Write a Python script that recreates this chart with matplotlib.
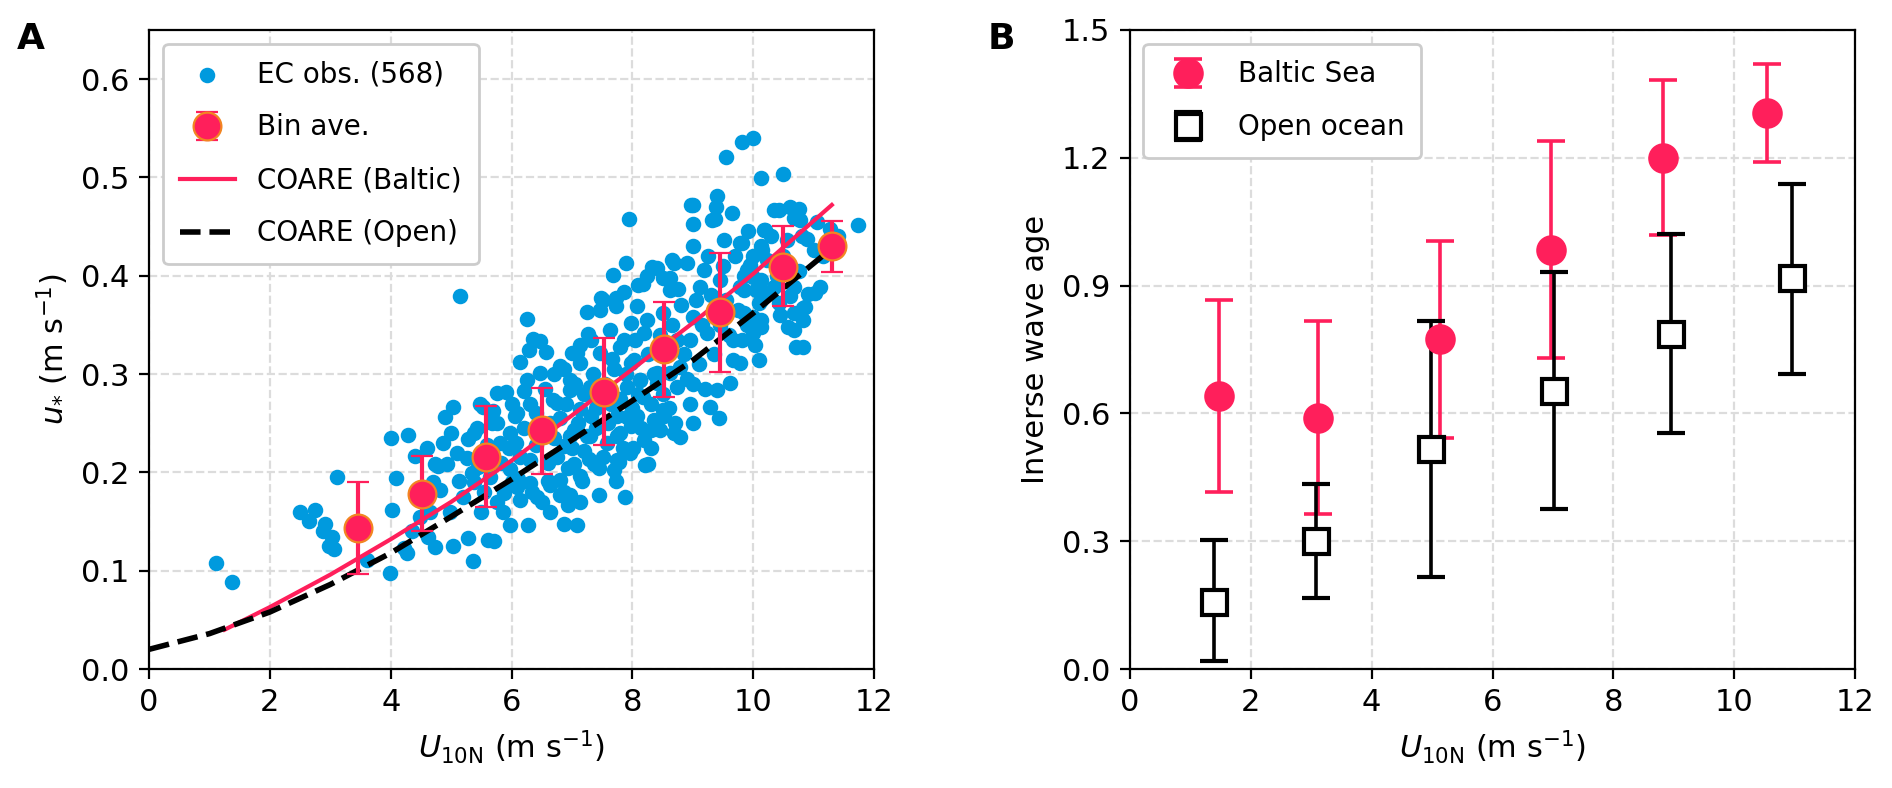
import matplotlib.pyplot as plt
import numpy as np

u10_obs = [
    1.11, 1.37, 2.50, 2.75, 2.65, 2.91, 2.88, 3.03, 2.98, 3.06, 3.11, 3.61, 4.01, 4.29, 4.09, 4.02,
    3.99, 4.27, 4.22, 4.40, 4.49, 4.62, 4.74, 4.82, 4.79, 4.93, 4.87, 4.90, 5.03, 5.13, 4.98, 5.03,
    5.28, 5.36, 5.28, 5.43, 5.53, 5.26, 5.34, 5.61, 4.55, 4.65, 4.35,
    5.15, 6.26, 6.14, 6.28, 6.36, 6.47, 6.57, 7.25, 7.47, 7.52, 7.68, 7.90, 7.86, 7.72, 8.07, 8.18,
    8.40, 8.51, 8.68, 8.62, 7.88, 7.08, 6.27, 5.97, 5.86, 8.25, 8.19, 4.73, 5.37, 5.76, 5.90, 5.68,
    6.06, 6.08, 5.83, 6.11, 6.34, 6.50, 6.61, 6.86, 6.94, 7.17, 7.28, 7.45, 7.78, 8.01, 6.25, 6.47,
    6.86, 6.97, 6.75, 7.14, 7.31, 7.14, 7.66, 7.86, 7.97, 8.13, 8.30, 8.53, 8.46, 8.07, 7.74, 7.31,
    7.03, 7.25, 6.86, 6.31, 5.98, 6.31, 6.64, 7.58, 7.74, 7.97, 8.30, 8.40, 8.62, 8.24, 7.97, 8.51,
    8.73, 8.73, 5.48, 5.54, 5.76, 5.37, 6.64, 6.94, 7.14, 7.45, 7.72, 6.86,
    9.81, 9.99, 9.55, 10.12, 10.49, 7.95, 9.01, 9.40, 9.39, 9.65, 9.37, 9.01, 9.00, 8.90, 9.18, 9.51,
    9.78, 9.92, 10.12, 10.42, 10.61, 10.75, 10.78, 10.17, 7.72, 8.10, 8.62, 8.24, 8.76, 9.12, 9.45,
    9.78, 10.00, 10.12, 10.23, 10.67, 10.86, 10.83, 10.67, 10.70, 10.83, 10.09, 10.00, 10.12, 9.84,
    9.67, 9.67, 9.62, 9.40, 9.23, 9.01, 8.96, 8.79, 9.01, 8.40, 8.12, 8.02, 7.80, 7.46, 7.08, 6.80,
    6.97, 7.30, 7.63, 8.19, 9.89, 10.34, 10.56,
    11.74, 11.27, 10.67, 10.20, 10.89, 11.00, 10.15, 9.81, 9.95, 10.12, 9.84, 10.23, 10.61, 11.11,
    10.91, 10.83, 10.67, 10.09, 10.00, 10.12, 10.42, 10.03, 9.78, 9.81, 11.02,
    5.71, 6.80, 6.97, 6.42, 6.14, 6.09, 6.31, 6.64, 6.80, 7.14, 7.03, 7.36, 7.52, 7.74, 7.69, 7.96,
    8.21, 8.68, 8.79, 9.01, 9.43, 9.29, 8.35, 8.51, 8.18, 7.91, 7.80, 7.30, 6.97, 6.75, 6.14, 5.98,
    5.87, 6.09, 6.69, 7.14, 7.64, 7.91, 5.76,
    8.97, 9.32, 8.32, 8.66, 7.48, 7.00, 7.26, 10.58, 10.35,
    5.60, 5.70, 5.95, 6.00, 6.20, 6.20, 6.40, 6.40, 6.55, 6.60, 6.70, 6.70, 6.80, 6.90, 7.00, 7.05,
    7.10, 7.20, 7.20, 7.35, 7.40, 7.40, 7.55, 7.60, 7.70, 7.80, 7.85, 7.90, 8.00, 8.05, 8.10, 8.15,
    8.25, 8.30, 8.35, 8.45, 8.50, 8.55, 8.60, 8.65, 8.70, 8.80, 8.85, 8.90, 8.95, 9.05, 9.10, 9.15,
    9.20, 9.25, 9.30, 9.35, 9.45, 9.50, 9.55, 9.60, 9.70, 9.75, 9.85, 9.90, 10.00, 10.05, 10.30, 10.40,
    10.45, 10.50, 10.75, 10.80, 11.05, 11.15, 11.40,
    4.60, 4.70, 5.00, 5.10, 5.20, 5.45, 5.50, 5.65, 5.80, 6.00,
]
ustar_obs = [
    0.108, 0.088, 0.160, 0.162, 0.151, 0.148, 0.140, 0.134, 0.125, 0.122, 0.195, 0.111, 0.235, 0.238, 0.194, 0.162,
    0.098, 0.118, 0.123, 0.217, 0.155, 0.134, 0.124, 0.182, 0.206, 0.209, 0.230, 0.256, 0.266, 0.191, 0.160, 0.125,
    0.133, 0.110, 0.234, 0.245, 0.267, 0.215, 0.199, 0.131, 0.170, 0.160, 0.140,
    0.379, 0.356, 0.312, 0.324, 0.336, 0.334, 0.322, 0.363, 0.365, 0.375, 0.401, 0.413, 0.383, 0.369, 0.369, 0.392,
    0.408, 0.398, 0.413, 0.385, 0.175, 0.146, 0.146, 0.146, 0.160, 0.209, 0.233, 0.209, 0.240, 0.281, 0.282, 0.250,
    0.257, 0.230, 0.210, 0.193, 0.180, 0.170, 0.191, 0.180, 0.204, 0.191, 0.214, 0.204, 0.211, 0.225, 0.294, 0.301,
    0.305, 0.284, 0.271, 0.311, 0.335, 0.330, 0.315, 0.335, 0.311, 0.294, 0.270, 0.257, 0.243, 0.257, 0.257, 0.257,
    0.243, 0.237, 0.227, 0.213, 0.240, 0.270, 0.250, 0.230, 0.237, 0.247, 0.243, 0.291, 0.301, 0.355, 0.352, 0.362,
    0.335, 0.287, 0.270, 0.180, 0.170, 0.190, 0.160, 0.167, 0.170, 0.177, 0.191, 0.148,
    0.536, 0.540, 0.521, 0.499, 0.503, 0.458, 0.472, 0.481, 0.470, 0.464, 0.458, 0.453, 0.430, 0.413, 0.406, 0.436,
    0.433, 0.445, 0.430, 0.467, 0.470, 0.468, 0.457, 0.447, 0.377, 0.391, 0.398, 0.400, 0.387, 0.389, 0.396,
    0.389, 0.399, 0.375, 0.416, 0.389, 0.368, 0.355, 0.345, 0.328, 0.328, 0.314, 0.342, 0.355, 0.362,
    0.335, 0.314, 0.291, 0.284, 0.342, 0.358, 0.335, 0.307, 0.290, 0.301, 0.294, 0.314, 0.328, 0.321, 0.321, 0.308,
    0.294, 0.287, 0.345, 0.342, 0.406, 0.389, 0.436,
    0.452, 0.448, 0.459, 0.447, 0.437, 0.426, 0.426, 0.433, 0.411, 0.396, 0.385, 0.382, 0.379, 0.389,
    0.381, 0.367, 0.362, 0.372, 0.358, 0.348, 0.372, 0.330, 0.311, 0.335, 0.382,
    0.130, 0.177, 0.177, 0.175, 0.172, 0.185, 0.189, 0.187, 0.192, 0.196, 0.209, 0.209, 0.216, 0.213, 0.202, 0.220,
    0.208, 0.240, 0.236, 0.250, 0.255, 0.267, 0.253, 0.263, 0.277, 0.256, 0.240, 0.237, 0.237, 0.216, 0.216, 0.203,
    0.179, 0.260, 0.274, 0.264, 0.270, 0.287, 0.250,
    0.472, 0.457, 0.409, 0.416, 0.377, 0.321, 0.341, 0.348, 0.467,
    0.228, 0.262, 0.225, 0.270, 0.245, 0.283, 0.260, 0.228, 0.285, 0.210, 0.235, 0.300, 0.255, 0.270, 0.225, 0.290,
    0.250, 0.280, 0.222, 0.300, 0.265, 0.245, 0.290, 0.250, 0.305, 0.275, 0.225, 0.300, 0.265, 0.335, 0.280, 0.245,
    0.320, 0.225, 0.300, 0.340, 0.280, 0.320, 0.265, 0.350, 0.250, 0.370, 0.320, 0.295, 0.270, 0.375, 0.310, 0.350,
    0.285, 0.420, 0.380, 0.320, 0.350, 0.410, 0.375, 0.340, 0.420, 0.365, 0.400, 0.350, 0.420, 0.385, 0.440, 0.400,
    0.360, 0.420, 0.405, 0.440, 0.455, 0.420, 0.440,
    0.225, 0.190, 0.240, 0.220, 0.175, 0.205, 0.160, 0.195, 0.230, 0.190,
]

# Bin averages with error bar limits
bin_u10 = [3.45, 4.52, 5.57, 6.50, 7.53, 8.52, 9.45, 10.49, 11.30]
bin_ustar = [0.143, 0.178, 0.216, 0.243, 0.282, 0.325, 0.363, 0.409, 0.430]
bin_lo = [0.097, 0.140, 0.165, 0.198, 0.228, 0.277, 0.302, 0.369, 0.404]
bin_hi = [0.190, 0.217, 0.268, 0.286, 0.337, 0.373, 0.423, 0.451, 0.456]

# COARE curves
coare_baltic_u = [1.25, 2, 3, 4, 5, 6, 7, 8, 9, 10, 11.3]
coare_baltic_ustar = [0.040, 0.063, 0.096, 0.132, 0.170, 0.212, 0.258, 0.305, 0.352, 0.402, 0.472]
coare_open_u = [0, 1, 2, 3, 4, 5, 6, 7, 8, 9, 10, 11.5]
coare_open_ustar = [0.020, 0.036, 0.058, 0.086, 0.118, 0.155, 0.193, 0.233, 0.273, 0.314, 0.362, 0.438]

# Panel B: inverse wave age
baltic_u = [1.48, 3.12, 5.14, 6.96, 8.82, 10.54]
baltic_iwa = [0.640, 0.588, 0.774, 0.983, 1.199, 1.304]
baltic_lo = [0.415, 0.365, 0.543, 0.729, 1.019, 1.191]
baltic_hi = [0.867, 0.817, 1.005, 1.239, 1.382, 1.420]
open_u = [1.40, 3.08, 4.99, 7.02, 8.95, 10.95]
open_iwa = [0.158, 0.300, 0.516, 0.652, 0.787, 0.917]
open_lo = [0.018, 0.167, 0.216, 0.376, 0.554, 0.692]
open_hi = [0.302, 0.435, 0.818, 0.932, 1.020, 1.139]

rosso = "#FF1F5B"
blu = "#009ADE"
arancio = "#F28522"

plt.rcParams["font.size"] = 11
plt.rcParams["mathtext.default"] = "regular"

fig = plt.figure(figsize=(9.46, 3.94), dpi=200)
axA = fig.add_axes([0.0788, 0.151, 0.3832, 0.811])
axB = fig.add_axes([0.597, 0.151, 0.3837, 0.811])

for ax in (axA, axB):
    ax.grid(True, color="#dcdcdc", linestyle="--", linewidth=0.8)
    ax.set_axisbelow(True)

# --- A ---
h_obs = axA.scatter(u10_obs, ustar_obs, s=21, color=blu, zorder=2, label="EC obs. (568)")
b = np.array(bin_ustar)
errA = [b - np.array(bin_lo), np.array(bin_hi) - b]
h_bin = axA.errorbar(bin_u10, bin_ustar, yerr=errA, fmt="o", color=rosso, markersize=10,
                     markerfacecolor=rosso, markeredgecolor=arancio, markeredgewidth=0.8,
                     elinewidth=1.5, capsize=4, capthick=1.5, zorder=4, label="Bin ave.")
h_bal, = axA.plot(coare_baltic_u, coare_baltic_ustar, color=rosso, lw=1.5, zorder=3, label="COARE (Baltic)")
h_open, = axA.plot(coare_open_u, coare_open_ustar, color="black", lw=2, ls="--", zorder=3, label="COARE (Open)")
axA.set_xlim(0, 12)
axA.set_ylim(0, 0.65)
axA.set_xticks([0, 2, 4, 6, 8, 10, 12])
axA.set_yticks([0.0, 0.1, 0.2, 0.3, 0.4, 0.5, 0.6])
axA.set_xlabel("$\\mathit{U}_{10N}$ (m s$^{-1}$)")
axA.set_ylabel("$\\mathit{u}_{*}$ (m s$^{-1}$)")
axA.legend(handles=[h_obs, h_bin, h_bal, h_open], loc="upper left", fontsize=10,
           labelspacing=0.9, borderpad=0.6, framealpha=1, edgecolor="#cccccc", fancybox=True)

# --- B ---
bb = np.array(baltic_iwa)
errBb = [bb - np.array(baltic_lo), np.array(baltic_hi) - bb]
oo = np.array(open_iwa)
errBo = [oo - np.array(open_lo), np.array(open_hi) - oo]
axB.errorbar(baltic_u, baltic_iwa, yerr=errBb, fmt="o", color=rosso, markersize=10,
             elinewidth=1.3, capsize=5, capthick=1.3, zorder=3, label="Baltic Sea")
axB.errorbar(open_u, open_iwa, yerr=errBo, fmt="s", color="black", markersize=9,
             markerfacecolor="white", markeredgewidth=1.5,
             elinewidth=1.3, capsize=5, capthick=1.3, zorder=3, label="Open ocean")
axB.set_xlim(0, 12)
axB.set_ylim(0, 1.5)
axB.set_xticks([0, 2, 4, 6, 8, 10, 12])
axB.set_yticks([0.0, 0.3, 0.6, 0.9, 1.2, 1.5])
axB.set_xlabel("$\\mathit{U}_{10N}$ (m s$^{-1}$)")
axB.set_ylabel("Inverse wave age")
axB.legend(loc="upper left", fontsize=10, labelspacing=0.9, borderpad=0.6,
           framealpha=1, edgecolor="#cccccc", fancybox=True)

fig.text(0.009, 0.972, "A", fontsize=13, fontweight="bold", va="top", ha="left")
fig.text(0.522, 0.972, "B", fontsize=13, fontweight="bold", va="top", ha="left")

fig.savefig("out.png", dpi=200)
